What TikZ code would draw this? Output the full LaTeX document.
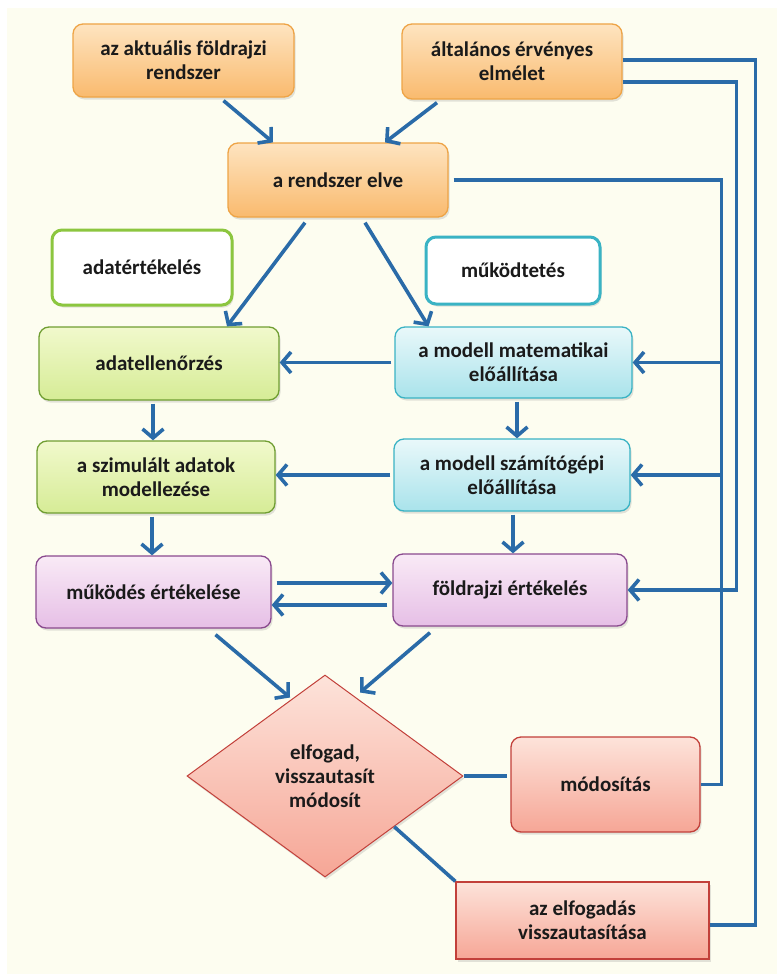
\documentclass[tikz,border=0pt]{standalone}
\usepackage{fontspec}
\setmainfont{Carlito}
\usepackage{tikz}
\usetikzlibrary{arrows.meta}
\usetikzlibrary{shapes.geometric}
\usetikzlibrary{shadows}

\definecolor{bg}{HTML}{FDFDF0}
\definecolor{ink}{HTML}{1A1A1A}
\definecolor{link}{HTML}{2A6BA8}
\definecolor{orTop}{HTML}{FEE4C0}
\definecolor{orBot}{HTML}{F9BA6E}
\definecolor{orLine}{HTML}{EEA446}
\definecolor{grTop}{HTML}{F1F9CC}
\definecolor{grBot}{HTML}{D6EC96}
\definecolor{grLine}{HTML}{8CC63F}
\definecolor{cyTop}{HTML}{E9F8FA}
\definecolor{cyBot}{HTML}{A9E3EB}
\definecolor{cyLine}{HTML}{3AB3C4}
\definecolor{puTop}{HTML}{F9EAF6}
\definecolor{puBot}{HTML}{E6BFE6}
\definecolor{puLine}{HTML}{8A4A8E}
\definecolor{rdTop}{HTML}{FDE3DA}
\definecolor{rdBot}{HTML}{F6A696}
\definecolor{rdLine}{HTML}{C2403A}

\begin{document}
\begin{tikzpicture}[
    x=1pt, y=-1pt,
    box/.style={rectangle, rounded corners=10pt, line width=1.3pt, align=center, text=ink,
      font=\fontsize{21}{24}\selectfont\bfseries,
      drop shadow={opacity=0.22, shadow xshift=1.5pt, shadow yshift=-2.5pt}},
    orange/.style={box, draw=orLine, top color=orTop, bottom color=orBot},
    green/.style={box, draw=grLine!80!black, top color=grTop, bottom color=grBot},
    cyan/.style={box, draw=cyLine, top color=cyTop, bottom color=cyBot},
    purple/.style={box, draw=puLine, top color=puTop, bottom color=puBot},
    red/.style={box, draw=rdLine, top color=rdTop, bottom color=rdBot},
    outline/.style={box, fill=white, line width=3pt, drop shadow={opacity=0}},
    link/.style={line width=3.6pt, draw=link},
    arrow/.style={link, -{Straight Barb[length=9pt,width=21pt]}}
]

\useasboundingbox (0,0) rectangle (777,974);
\fill[white] (0,0) rectangle (777,974);
\fill[bg] (7,8) rectangle (777,974);

\node[orange, minimum width=221pt, minimum height=73pt] (aktual) at (183.5,60.5) {az aktuális földrajzi\\rendszer};
\node[orange, minimum width=220pt, minimum height=75pt] (altalanos) at (512,61.5) {általános érvényes\\elmélet};
\node[orange, minimum width=220pt, minimum height=74pt] (elv) at (338,180) {a rendszer elve};

\node[outline, draw=grLine, minimum width=180pt, minimum height=75pt] (adatert) at (142,267.5) {adatértékelés};
\node[outline, draw=cyLine, minimum width=174pt, minimum height=67pt] (mukodtetes) at (513,270.5) {működtetés};

\node[green, minimum width=240pt, minimum height=73pt] (adatell) at (159,363.5) {adatellenőrzés};
\node[cyan, minimum width=237pt, minimum height=71pt] (matmodell) at (513.5,362.5) {a modell matematikai\\előállítása};
\node[green, minimum width=238pt, minimum height=72pt] (szimulalt) at (156,477) {a szimulált adatok\\modellezése};
\node[cyan, minimum width=236pt, minimum height=72pt] (gepmodell) at (512,475) {a modell számítógépi\\előállítása};
\node[purple, minimum width=235pt, minimum height=72pt] (mukodes) at (153.5,592) {működés értékelése};
\node[purple, minimum width=234pt, minimum height=72pt] (foldrajzi) at (510,590) {földrajzi értékelés};

\node[red, diamond, rounded corners=0pt, line width=1pt, aspect=1.37, inner sep=0pt,
  minimum width=276pt, minimum height=202pt] (dontes) at (325,776) {elfogad,\\visszautasít\\módosít};
\node[red, minimum width=189pt, minimum height=95pt] (modositas) at (605.5,784.5) {módosítás};
\node[red, rounded corners=0pt, minimum width=253pt, minimum height=77pt] (elutasitas) at (582.5,920.5) {az elfogadás\\visszautasítása};

\draw[arrow] ([xshift=40pt,yshift=-3pt]aktual.south) -- ([xshift=-65pt]elv.north);
\draw[arrow] ([xshift=-75pt,yshift=-3pt]altalanos.south) -- ([xshift=47pt]elv.north);
\draw[arrow] ([xshift=-33pt,yshift=-5pt]elv.south) -- ([xshift=68pt]adatell.north);
\draw[arrow] ([xshift=27pt,yshift=-5pt]elv.south) -- ([xshift=-85pt]matmodell.north);

\draw[arrow, shorten <=3pt] (matmodell.west) -- (matmodell.west -| adatell.east);
\draw[arrow, shorten <=3pt] (gepmodell.west) -- (gepmodell.west -| szimulalt.east);
\draw[arrow, shorten <=3pt] ([xshift=-6pt]adatell.south) -- ([xshift=-6pt]adatell.south |- szimulalt.north);
\draw[arrow, shorten <=3pt] ([xshift=-4pt]szimulalt.south) -- ([xshift=-4pt]szimulalt.south |- mukodes.north);
\draw[arrow, shorten <=3pt] ([xshift=3.5pt]matmodell.south) -- ([xshift=3.5pt]matmodell.south |- gepmodell.north);
\draw[arrow, shorten <=3pt] ([xshift=1pt]gepmodell.south) -- ([xshift=1pt]gepmodell.south |- foldrajzi.north);
\draw[arrow, shorten <=5pt] ([yshift=9pt]mukodes.east) -- ([yshift=9pt]mukodes.east -| foldrajzi.west);
\draw[arrow, shorten <=5pt] ([yshift=-15pt]foldrajzi.west) -- ([yshift=-15pt]foldrajzi.west -| mukodes.east);

\draw[arrow] ([xshift=62pt,yshift=-6pt]mukodes.south) -- ([xshift=-35pt,yshift=-23pt]dontes.north);
\draw[arrow] ([xshift=-80pt,yshift=-6pt]foldrajzi.south) -- ([xshift=35pt,yshift=-18pt]dontes.north);
\draw[link, shorten >=3pt] (dontes.east) -- (dontes.east -| modositas.west);
\draw[link] (dontes.south east) -- (elutasitas.north west);

\coordinate (kulso) at ([xshift=133pt,yshift=1.5pt]altalanos.east);
\coordinate (kozepso) at ([xshift=114pt,yshift=-20.5pt]altalanos.east);
\coordinate (belso) at ([xshift=273pt]elv.east);

\draw[link] ([yshift=1.5pt]altalanos.east) -- (kulso) |- ([yshift=-4.5pt]elutasitas.east);
\draw[arrow] ([yshift=-20.5pt]altalanos.east) -- (kozepso) |- (foldrajzi.east);
\draw[link, shorten <=5pt] (elv.east) -- (belso) |- (modositas.east);
\draw[arrow] (belso |- matmodell.east) -- (matmodell.east);
\draw[arrow] (belso |- gepmodell.east) -- (gepmodell.east);
\end{tikzpicture}
\end{document}
